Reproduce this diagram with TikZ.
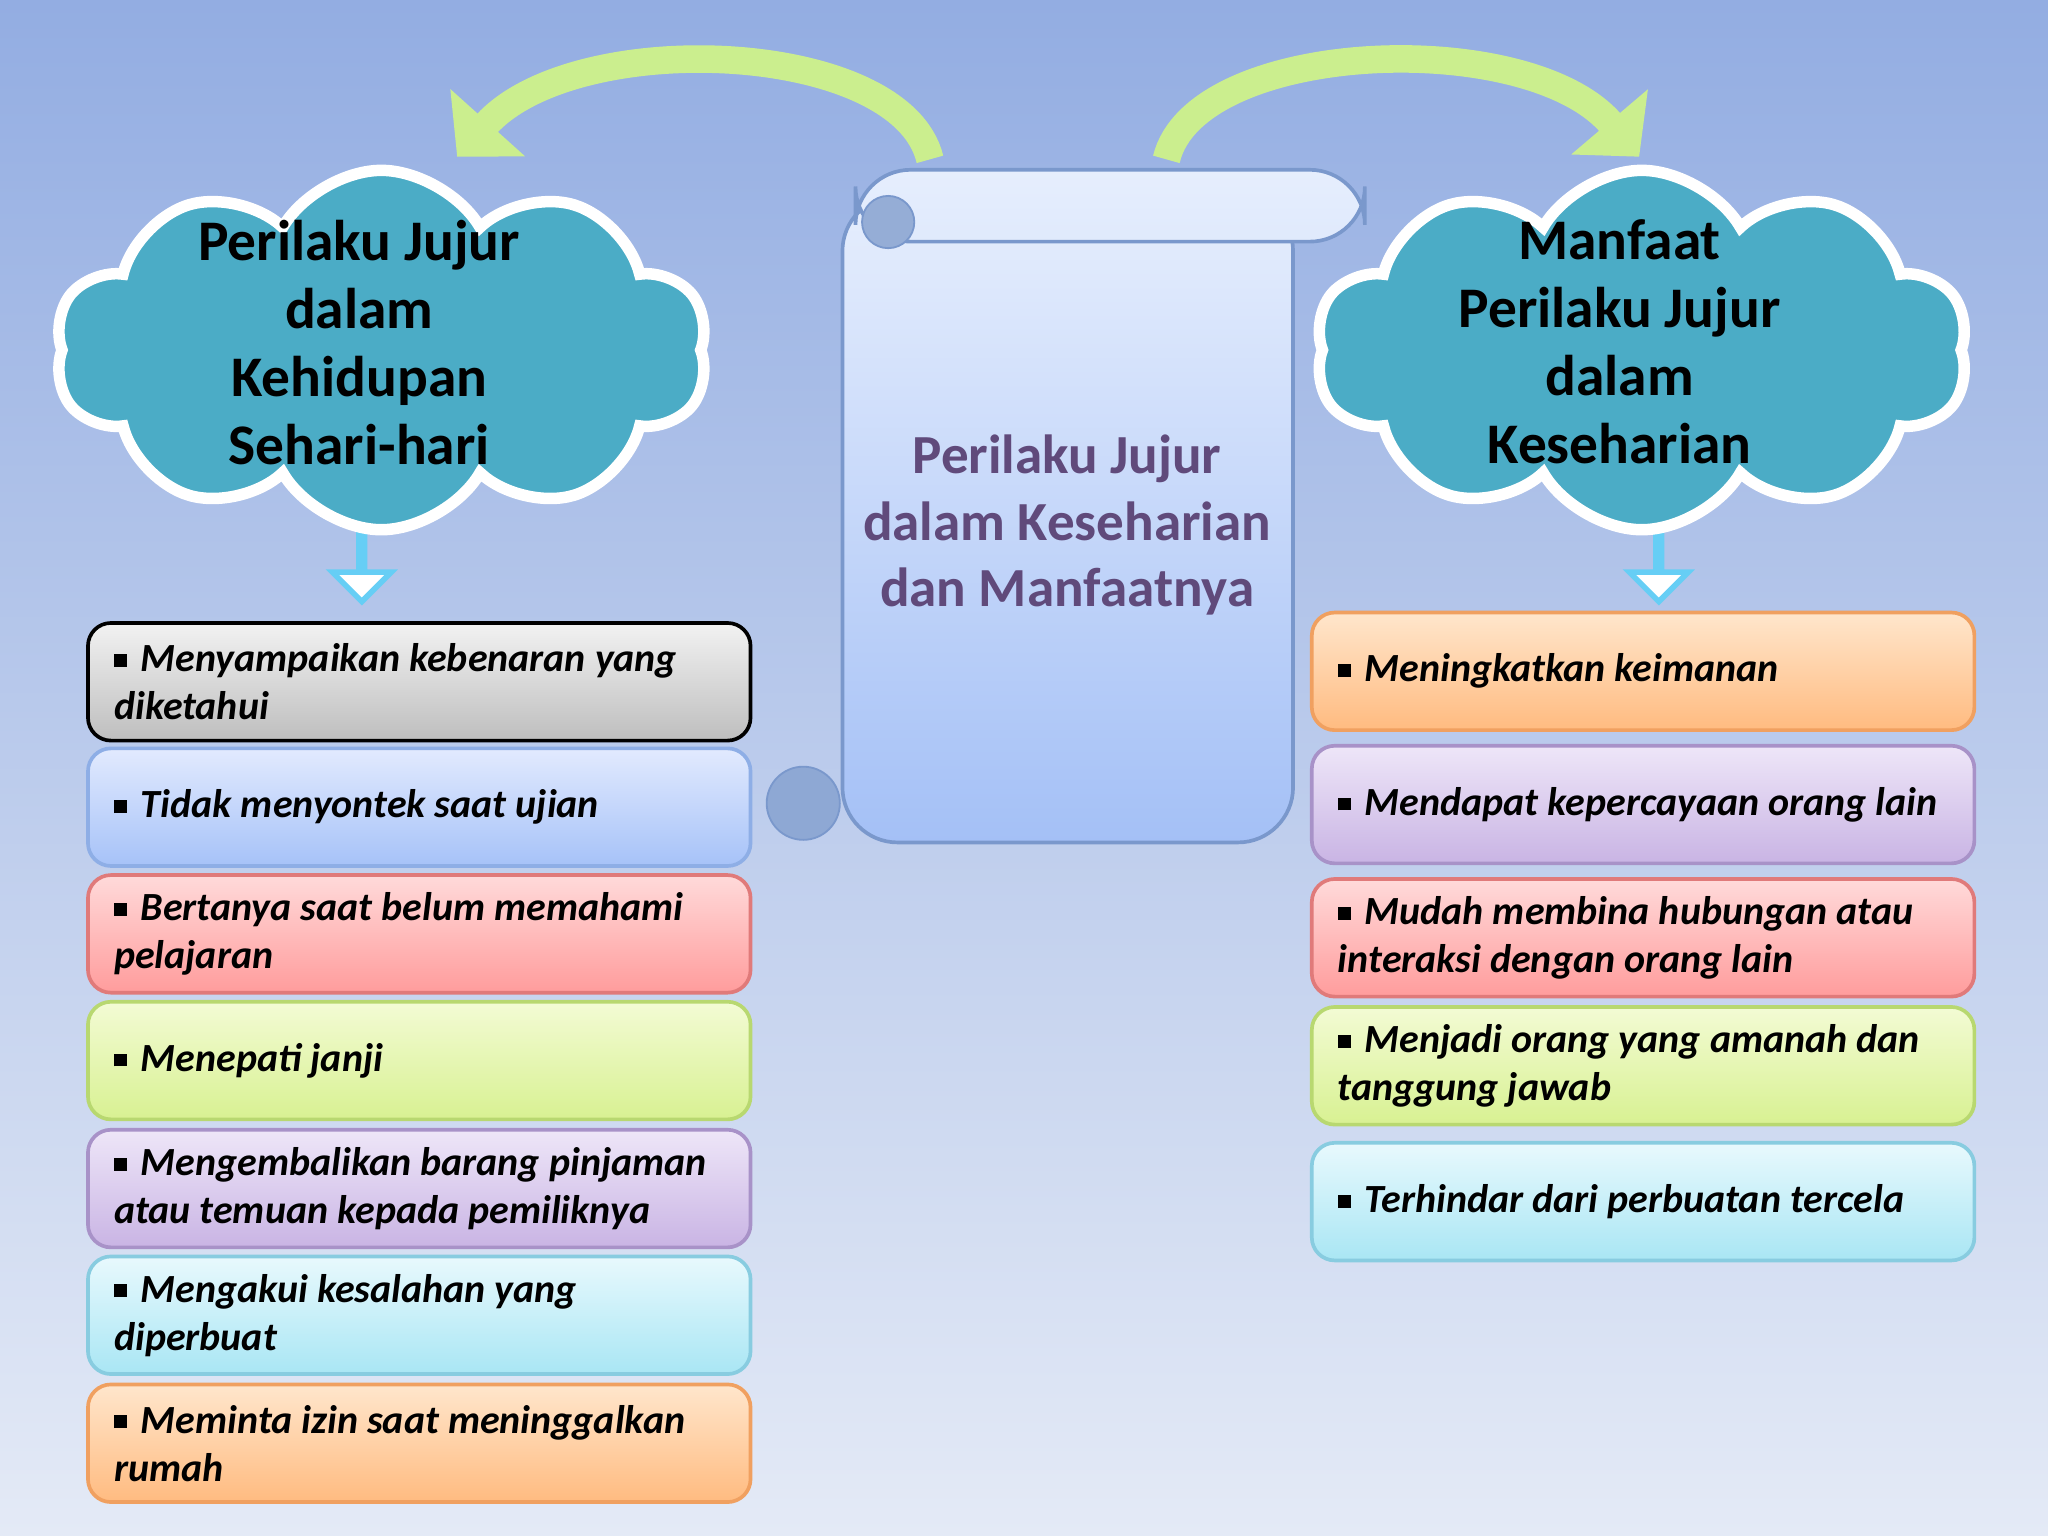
\documentclass[tikz,border=0pt]{standalone}
\usepackage{fontspec}
\setmainfont{Carlito}
\usetikzlibrary{shapes.symbols,shapes.arrows,arrows.meta}
\definecolor{cloudc}{HTML}{4BACC6}
\definecolor{titlec}{HTML}{604A7B}
\definecolor{bgtop}{HTML}{93ADE2}
\definecolor{bgbot}{HTML}{E4EAF6}
\definecolor{sctop}{HTML}{E6EEFD}
\definecolor{scbot}{HTML}{A4C0F6}
\definecolor{scline}{HTML}{7A98CC}
\definecolor{grn}{HTML}{CBEE8E}
\definecolor{grayT}{HTML}{F2F2F2}\definecolor{grayB}{HTML}{BEBEBE}
\definecolor{bluT}{HTML}{E2EAFE}\definecolor{bluB}{HTML}{A6C2F8}\definecolor{bluD}{HTML}{8EAEE6}
\definecolor{redT}{HTML}{FFDADA}\definecolor{redB}{HTML}{FF9C9C}\definecolor{redD}{HTML}{E07A7A}
\definecolor{grnT}{HTML}{F3FBD4}\definecolor{grnB}{HTML}{D8F192}\definecolor{grnD}{HTML}{B8D870}
\definecolor{vioT}{HTML}{EEE6F8}\definecolor{vioB}{HTML}{C9B4E4}\definecolor{vioD}{HTML}{A892C8}
\definecolor{cyaT}{HTML}{E8F9FD}\definecolor{cyaB}{HTML}{A9E6F4}\definecolor{cyaD}{HTML}{88CCE0}
\definecolor{oraT}{HTML}{FFE6CC}\definecolor{oraB}{HTML}{FFBB80}\definecolor{oraD}{HTML}{F0A060}
\newcommand{\bul}{\rule[0.12em]{0.32em}{0.32em}\hspace{0.35em}}
\tikzset{
 box/.style={rounded corners=5pt, minimum width=5.07cm, minimum height=0.9cm, text width=4.67cm, align=flush left, inner sep=0pt, font=\fontsize{8.7}{10.5}\selectfont\bfseries\itshape, line width=0.8pt},
 cloudn/.style={cloud, cloud puffs=10, cloud puff arc=120, aspect=1.8, fill=cloudc, draw=white, line width=2.5pt, minimum width=5.0cm, minimum height=2.75cm, inner sep=0pt},
 cloudt/.style={align=center, font=\fontsize{12.5}{14.8}\selectfont\bfseries},
 darr/.style={single arrow, shape border rotate=270, single arrow head extend=0.2cm, single arrow head indent=0cm, minimum height=0.55cm, minimum width=0.45cm, fill=white, draw=cyan!60!white, line width=1.2pt, inner sep=0pt},
 garr/.style={line width=6pt, draw=grn, -{Triangle[width=0.75cm,length=0.35cm]}},
}
\begin{document}
\begin{tikzpicture}[x=0.01cm,y=-0.01cm]
\shade[top color=bgtop, bottom color=bgbot] (0,0) rectangle (1568,1176);
\useasboundingbox (0,0) rectangle (1568,1176);
% scroll
\shade[top color=sctop, bottom color=scbot, draw=scline, rounded corners=12pt, line width=0.8pt] (645,150) rectangle (990,645);
\shade[top color=sctop, bottom color=sctop!90!scbot, draw=scline, rounded corners=12pt, line width=0.8pt] (655,130) rectangle (1045,185);
\fill[scline!80!white, draw=scline] (680,170) circle (20);
\fill[scline!85!white, draw=scline] (615,615) circle (28);
\node[align=center, text=titlec, font=\fontsize{12}{14.5}\selectfont\bfseries] (title) at (817,402) {Perilaku Jujur\\dalam Keseharian\\dan Manfaatnya};
\coordinate (sl) at (712,122);
\coordinate (sr) at (893,122);
% clouds
\node[darr] (dl) at (277,432) {};
\node[darr] (dr) at (1270,432) {};
\node[cloudn] (cl) at (292,268) {};
\node[cloudn] (cr) at (1257,268) {};
\node[cloudt] (clt) at (275,262) {Perilaku Jujur\\dalam\\Kehidupan\\Sehari-hari};
\node[cloudt] (crt) at (1240,262) {Manfaat\\Perilaku Jujur\\dalam\\Keseharian};
\draw[garr] (sl) .. controls (690,30) and (440,20) .. (350,120);
\draw[garr] (sr) .. controls (915,30) and (1170,20) .. (1255,120);
% left boxes
\node[box, draw=black, top color=grayT, bottom color=grayB] (l1) at (321,522) {\bul Menyampaikan kebenaran yang diketahui};
\node[box, draw=bluD, top color=bluT, bottom color=bluB] (l2) at (321,618) {\bul Tidak menyontek saat ujian};
\node[box, draw=redD, top color=redT, bottom color=redB] (l3) at (321,715) {\bul Bertanya saat belum memahami pelajaran};
\node[box, draw=grnD, top color=grnT, bottom color=grnB] (l4) at (321,812) {\bul Menepati janji};
\node[box, draw=vioD, top color=vioT, bottom color=vioB] (l5) at (321,910) {\bul Mengembalikan barang pinjaman atau temuan kepada pemiliknya};
\node[box, draw=cyaD, top color=cyaT, bottom color=cyaB] (l6) at (321,1007) {\bul Mengakui kesalahan yang diperbuat};
\node[box, draw=oraD, top color=oraT, bottom color=oraB] (l7) at (321,1105) {\bul Meminta izin saat meninggalkan rumah};
% right boxes
\node[box, draw=oraD, top color=oraT, bottom color=oraB] (r1) at (1258,514) {\bul Meningkatkan keimanan};
\node[box, draw=vioD, top color=vioT, bottom color=vioB] (r2) at (1258,616) {\bul Mendapat kepercayaan orang lain};
\node[box, draw=redD, top color=redT, bottom color=redB] (r3) at (1258,718) {\bul Mudah membina hubungan atau interaksi dengan orang lain};
\node[box, draw=grnD, top color=grnT, bottom color=grnB] (r4) at (1258,816) {\bul Menjadi orang yang amanah dan tanggung jawab};
\node[box, draw=cyaD, top color=cyaT, bottom color=cyaB] (r5) at (1258,920) {\bul Terhindar dari perbuatan tercela};
\end{tikzpicture}
\end{document}
